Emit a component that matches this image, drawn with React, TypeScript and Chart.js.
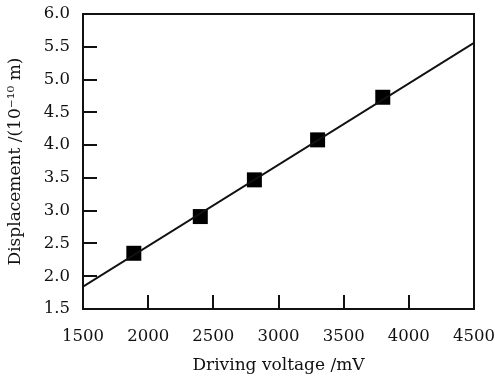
import React, { useEffect, useRef } from "react";
import { Chart, registerables } from "chart.js";

Chart.register(...registerables);

const voltage = [1890, 2400, 2815, 3300, 3800];
const displacement = [2.35, 2.91, 3.47, 4.08, 4.73];
const fitX = [1500, 4500];
const fitY = [1.84, 5.56];
const xTicks = [1500, 2000, 2500, 3000, 3500, 4000, 4500];
const yTicks = [1.5, 2.0, 2.5, 3.0, 3.5, 4.0, 4.5, 5.0, 5.5, 6.0];
const xTitle = "Driving voltage /mV";
const yTitle = "Displacement /(10\u207B\u00B9\u2070 m)";

const FONT = "'DejaVu Serif', serif";
const INK = "#111";

const frame = {
  id: "frame",
  afterDatasetsDraw(chart: any) {
    const { ctx, chartArea: a, scales } = chart;
    ctx.save();
    ctx.strokeStyle = INK;
    ctx.lineWidth = 2;
    ctx.strokeRect(a.left, a.top, a.right - a.left, a.bottom - a.top);
    const len = 14;
    ctx.beginPath();
    for (const v of xTicks.slice(1, -1)) {
      const px = Math.round(scales.x.getPixelForValue(v));
      ctx.moveTo(px, a.bottom);
      ctx.lineTo(px, a.bottom - len);
    }
    for (const v of yTicks.slice(1, -1)) {
      const py = Math.round(scales.y.getPixelForValue(v));
      ctx.moveTo(a.left, py);
      ctx.lineTo(a.left + len, py);
    }
    ctx.stroke();
    ctx.restore();
  },
};

export default function App() {
  const ref = useRef<HTMLCanvasElement>(null);
  useEffect(() => {
    const chart = new Chart(ref.current!, {
      type: "scatter",
      data: {
        datasets: [
          {
            type: "line",
            data: fitX.map((x, i) => ({ x, y: fitY[i] })),
            borderColor: INK,
            borderWidth: 2,
            pointRadius: 0,
            fill: false,
          } as any,
          {
            data: voltage.map((x, i) => ({ x, y: displacement[i] })),
            pointStyle: "rect",
            pointRadius: 10.6,
            backgroundColor: "#000",
            borderWidth: 0,
          },
        ],
      },
      options: {
        animation: false,
        responsive: false,
        maintainAspectRatio: false,
        layout: { padding: { top: 14, right: 21, left: 0, bottom: 0 } },
        plugins: { legend: { display: false }, tooltip: { enabled: false } },
        scales: {
          x: {
            type: "linear",
            min: 1500,
            max: 4500,
            afterBuildTicks: (s: any) => {
              s.ticks = xTicks.map((v) => ({ value: v }));
            },
            afterFit: (s: any) => {
              s.height = 68;
              s.paddingLeft = 0;
              s.paddingRight = 0;
            },
            grid: { display: false, drawTicks: false },
            border: { display: false },
            ticks: {
              padding: 18,
              color: INK,
              font: { family: FONT, size: 16.5 },
              maxRotation: 0,
              autoSkip: false,
              callback: (v: any) => String(v),
            },
            title: {
              display: true,
              text: xTitle,
              color: INK,
              font: { family: FONT, size: 17 },
              padding: { top: 0, bottom: 1 },
            },
          },
          y: {
            type: "linear",
            min: 1.5,
            max: 6.0,
            afterBuildTicks: (s: any) => {
              s.ticks = yTicks.map((v) => ({ value: v }));
            },
            afterFit: (s: any) => {
              s.width = 83;
              s.paddingTop = 0;
              s.paddingBottom = 0;
            },
            grid: { display: false, drawTicks: false },
            border: { display: false },
            ticks: {
              padding: 13,
              color: INK,
              font: { family: FONT, size: 16.5 },
              autoSkip: false,
              callback: (v: any) => Number(v).toFixed(1),
            },
            title: {
              display: true,
              text: yTitle,
              color: INK,
              font: { family: FONT, size: 17 },
              padding: { top: 5, bottom: 0 },
            },
          },
        },
      },
      plugins: [frame],
    });
    return () => chart.destroy();
  }, []);
  return (
    <div style={{ position: "fixed", left: 0, top: 0, width: 495, height: 377, background: "#fff" }}>
      <canvas ref={ref} width={495} height={377} style={{ display: "block" }} />
    </div>
  );
}
